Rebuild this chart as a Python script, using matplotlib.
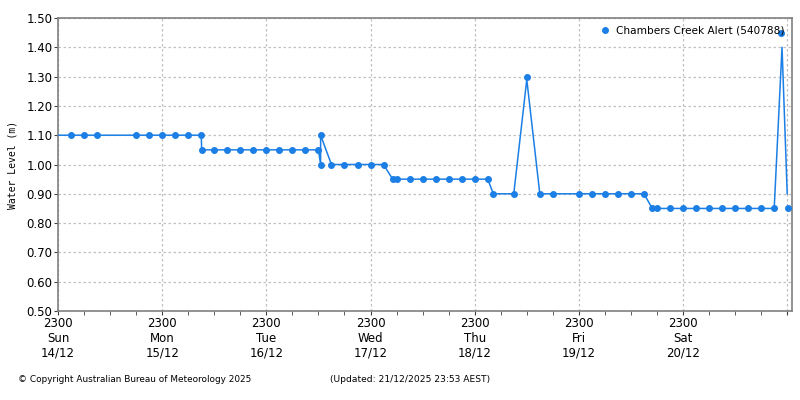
import matplotlib
matplotlib.use("Agg")
import matplotlib.pyplot as plt
from matplotlib.ticker import MultipleLocator, FixedLocator

# hours since 14/12 23:00
marker_hours = [3, 6, 9, 18, 21, 24, 27, 30, 33,
                33.1, 36, 39, 42, 45, 48, 51, 54, 57, 60,
                60.5, 60.5,
                63, 66, 69, 72, 75,
                77.1, 78, 81, 84, 87, 90, 93, 96, 99,
                100.3, 105, 108, 111, 114, 120, 123, 126, 129, 132, 135,
                136.9, 138, 141, 144, 147, 150, 153, 156, 159, 162, 165,
                166.5, 168.2]
marker_levels = [1.10, 1.10, 1.10, 1.10, 1.10, 1.10, 1.10, 1.10, 1.10,
                 1.05, 1.05, 1.05, 1.05, 1.05, 1.05, 1.05, 1.05, 1.05, 1.05,
                 1.00, 1.10,
                 1.00, 1.00, 1.00, 1.00, 1.00,
                 0.95, 0.95, 0.95, 0.95, 0.95, 0.95, 0.95, 0.95, 0.95,
                 0.90, 0.90, 1.30, 0.90, 0.90, 0.90, 0.90, 0.90, 0.90, 0.90, 0.90,
                 0.85, 0.85, 0.85, 0.85, 0.85, 0.85, 0.85, 0.85, 0.85, 0.85, 0.85,
                 1.45, 0.85]

# connecting line as drawn in the chart
line_hours = [0, 33, 33.1, 60, 60.5, 60.5, 63, 75, 77.1, 99, 100.3, 105, 108, 111,
              135, 136.9, 165, 166.8, 168.0]
line_levels = [1.10, 1.10, 1.05, 1.05, 1.00, 1.10, 1.00, 1.00, 0.95, 0.95, 0.90, 0.90, 1.29, 0.90,
               0.90, 0.85, 0.85, 1.40, 0.90]

day_hours = [0, 24, 48, 72, 96, 120, 144, 168]
day_labels = ["2300\nSun\n14/12", "2300\nMon\n15/12", "2300\nTue\n16/12", "2300\nWed\n17/12",
              "2300\nThu\n18/12", "2300\nFri\n19/12", "2300\nSat\n20/12", ""]

blue = "#1b7fe6"
grey = "#808080"

fig = plt.figure(figsize=(8, 4), dpi=100)
ax = fig.add_axes([0.0725, 0.2225, 0.9175, 0.7325])

ax.plot(line_hours, line_levels, color=blue, lw=1.1, zorder=3)
ax.plot(marker_hours, marker_levels, ls="none", marker="o", ms=4.0, color=blue,
        label="Chambers Creek Alert (540788)", zorder=4)

ax.set_xlim(0, 169.1)
ax.set_ylim(0.5, 1.5)
ax.yaxis.set_major_locator(MultipleLocator(0.1))
ax.yaxis.set_major_formatter(plt.FuncFormatter(lambda v, p: f"{v:.2f}"))
ax.xaxis.set_major_locator(FixedLocator(day_hours))
ax.set_xticklabels(day_labels)
ax.xaxis.set_minor_locator(MultipleLocator(6))

ax.grid(True, which="major", color="#c0c0c0", ls=(0, (2, 2)), lw=0.9)
for s in ax.spines.values():
    s.set_color(grey)
    s.set_linewidth(1.2)
ax.tick_params(axis="both", which="both", direction="out", length=3, color="#404040",
               labelsize=8.5, pad=1)

ax.set_ylabel("Water Level (m)", family="DejaVu Sans Mono", fontsize=7, labelpad=6)

ax.legend(loc="upper right", frameon=False, fontsize=7.6, handletextpad=0.6,
          borderaxespad=0.3, handlelength=1.0, markerscale=1.0)

fig.text(0.022, 0.05, "\u00a9 Copyright Australian Bureau of Meteorology 2025", fontsize=6.4, va="center")
fig.text(0.412, 0.05, "(Updated: 21/12/2025 23:53 AEST)", fontsize=6.6, va="center")

fig.savefig("out.png", dpi=100, facecolor="white")
